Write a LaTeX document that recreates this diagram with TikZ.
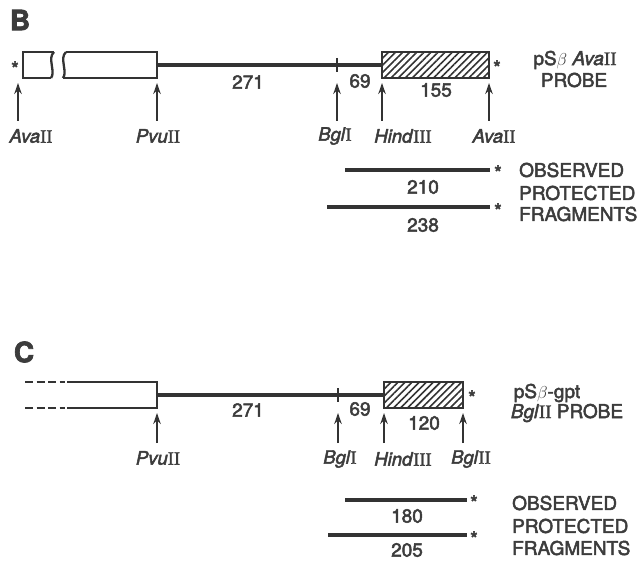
\documentclass[tikz,border=0pt]{standalone}
\usepackage{fontspec}
\setsansfont{TeX Gyre Heros}[FakeBold=2.6]
\newfontfamily\numfont{Liberation Serif}[FakeBold=1.6]
\usetikzlibrary{arrows.meta,patterns.meta}
\definecolor{ink}{HTML}{333333}
\definecolor{txt}{HTML}{3c3c3c}
\newcommand{\enzy}[2]{\textit{#1}{\numfont #2}}
\begin{document}
\begin{tikzpicture}[x=1pt,y=-1pt,
  lbl/.style={font=\sffamily\fontsize{19}{19}\selectfont, text=txt, inner sep=0pt},
  enz/.style={font=\sffamily\fontsize{18.5}{18.5}\selectfont, text=txt, inner sep=0pt},
  dna/.style={draw=ink, line width=3.3pt},
  box/.style={draw=ink, line width=2.3pt},
  tick/.style={draw=ink, line width=1.6pt},
  site/.style={draw=ink, line width=1.6pt, -{Stealth[length=11pt,width=7.5pt]}},
  star/.style={font=\sffamily\bfseries\fontsize{18}{18}\selectfont, text=txt, inner sep=0pt},
  panel/.style={font=\sffamily\bfseries\fontsize{28}{28}\selectfont, text=txt, inner sep=0pt},
  hatch/.style={box, pattern={Lines[angle=45,distance=5pt,line width=1.6pt]}, pattern color=ink}
]
\useasboundingbox (0,0) rectangle (644,561);

% ---------------- Panel B ----------------
\node[panel] (B) at (20,20) {B};
% box with break
\draw[box] (54,52) -- (23,52) -- (23,78) -- (51,78);
\draw[box] (54,52) .. controls (47,58) and (56,72) .. (51,78);
\draw[box] (66,52) .. controls (59,58) and (68,72) .. (63,78);
\draw[box] (66,52) -- (157,52) -- (157,78) -- (63,78);
\coordinate (Bboxr) at (157,65);
\coordinate (Bhindl) at (382,65);
\draw[dna] (Bboxr) -- (Bhindl);
\coordinate (Btt) at (337,58); \coordinate (Btb) at (337,72);
\draw[tick] (Btt) -- (Btb);
\draw[hatch] (382,52) rectangle (489,78);
\node[star] (Bs1) at (15,68) {*};
\node[star] (Bs2) at (497,67) {*};
\node[lbl] (B271) at (248,82) {271};
\node[lbl] (B69) at (360,81) {69};
\node[lbl] (B155) at (436,90) {155};
% sites
\node[enz] (BeA) at (31,136) {\enzy{Ava}{II}};
\node[enz] (BeP) at (158,136) {\enzy{Pvu}{II}};
\node[enz] (BeG) at (335,136) {\enzy{Bgl}{I}};
\node[enz] (BeH) at (403,136) {\enzy{Hind}{III}};
\node[enz] (BeA2) at (494,136) {\enzy{Ava}{II}};
\foreach \n/\x in {1/18,2/157,3/337,4/382,5/489}{
  \coordinate (Bat\n) at (\x,121);
  \coordinate (Bah\n) at (\x,83);
  \draw[site] (Bat\n) -- (Bah\n);
}
\node[lbl] (Bp1) at (575,60) {pS$\beta$ \textit{Ava}{\numfont II}};
\node[lbl] (Bp2) at (574,80) {PROBE};
% fragments
\coordinate (Bf1a) at (345,170); \coordinate (Bf1b) at (490,170);
\draw[dna] (Bf1a) -- (Bf1b);
\node[star] (Bf1s) at (498,172) {*};
\node[lbl] (B210) at (423,187) {210};
\coordinate (Bf2a) at (327,207); \coordinate (Bf2b) at (490,207);
\draw[dna] (Bf2a) -- (Bf2b);
\node[star] (Bf2s) at (498,210) {*};
\node[lbl] (B238) at (423,225) {238};
\node[lbl, anchor=west] (Bo) at (519,170) {OBSERVED};
\node[lbl, anchor=west] (Bpr) at (519,193) {PROTECTED};
\node[lbl, anchor=west] (Bfr) at (519,214) {FRAGMENTS};

% ---------------- Panel C ----------------
\node[panel] (C) at (24,352) {C};
\draw[box, dash pattern=on 8pt off 3.5pt] (25,382) -- (65,382);
\draw[box, dash pattern=on 8pt off 3.5pt] (25,408) -- (65,408);
\draw[box] (67,382) -- (157,382) -- (157,408) -- (67,408);
\coordinate (Cboxr) at (157,395);
\coordinate (Chindl) at (384,395);
\draw[dna] (Cboxr) -- (Chindl);
\coordinate (Ctt) at (338,388); \coordinate (Ctb) at (338,402);
\draw[tick] (Ctt) -- (Ctb);
\draw[hatch] (384,382) rectangle (463,408);
\node[star] (Cs2) at (472,397) {*};
\node[lbl] (C271) at (248,410) {271};
\node[lbl] (C69) at (360,409) {69};
\node[lbl] (C120) at (424,423) {120};
\node[enz] (CeP) at (158,458) {\enzy{Pvu}{II}};
\node[enz] (CeG) at (340,459) {\enzy{Bgl}{I}};
\node[enz] (CeH) at (403,459) {\enzy{Hind}{III}};
\node[enz] (CeB) at (471,459) {\enzy{Bgl}{II}};
\foreach \n/\x in {2/157,3/338,4/384,5/463}{
  \coordinate (Cat\n) at (\x,443);
  \coordinate (Cah\n) at (\x,413);
  \draw[site] (Cat\n) -- (Cah\n);
}
\node[lbl] (Cp1) at (547,393) {pS$\beta$-gpt};
\node[lbl] (Cp2) at (567,413) {\textit{Bgl}{\numfont II} PROBE};
% fragments
\coordinate (Cf1a) at (345,500); \coordinate (Cf1b) at (467,500);
\draw[dna] (Cf1a) -- (Cf1b);
\node[star] (Cf1s) at (474,502) {*};
\node[lbl] (C180) at (407,516) {180};
\coordinate (Cf2a) at (328,535); \coordinate (Cf2b) at (467,535);
\draw[dna] (Cf2a) -- (Cf2b);
\node[star] (Cf2s) at (474,538) {*};
\node[lbl] (C205) at (407,550) {205};
\node[lbl, anchor=west] (Co) at (512,503) {OBSERVED};
\node[lbl, anchor=west] (Cpr) at (512,526) {PROTECTED};
\node[lbl, anchor=west] (Cfr) at (512,548) {FRAGMENTS};
\end{tikzpicture}
\end{document}
